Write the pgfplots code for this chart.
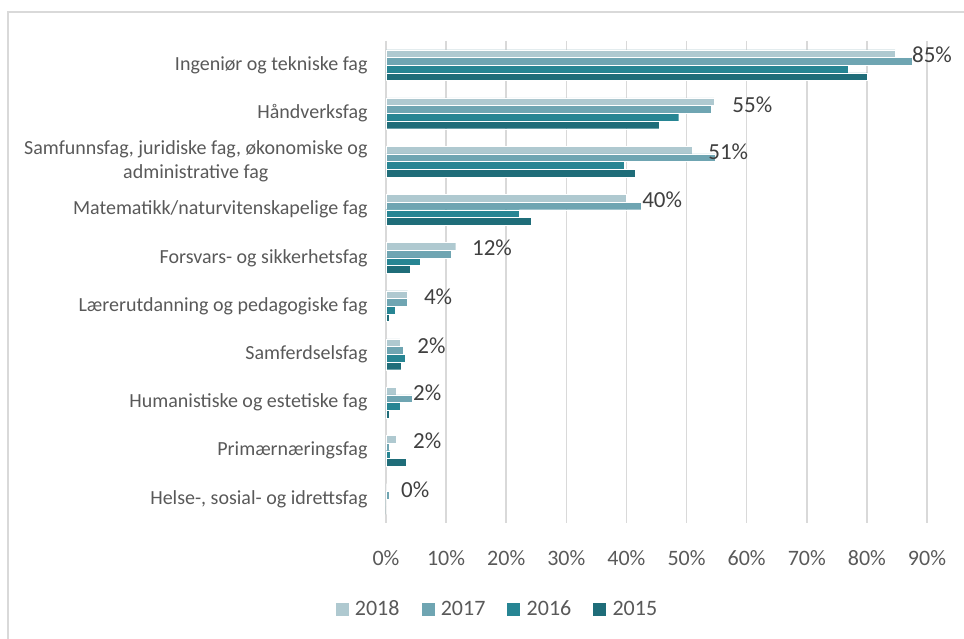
\documentclass[border=0pt]{standalone}
\usepackage{fontspec}
\setmainfont{Carlito}
\usepackage{pgfplots}
\pgfplotsset{compat=1.18}

\definecolor{c2018}{HTML}{AFC9D0}
\definecolor{c2017}{HTML}{6FA5B2}
\definecolor{c2016}{HTML}{278593}
\definecolor{c2015}{HTML}{1F6D79}
\definecolor{gridgray}{HTML}{D9D9D9}
\definecolor{txt}{HTML}{595959}
\definecolor{lbl}{HTML}{404040}

\begin{document}
\begin{tikzpicture}
\useasboundingbox (-386bp,-116bp) rectangle (578bp,523bp);
% chart frame (only top and left edges are visible)
\draw[gridgray, line width=1.2bp] (-378bp,-116bp) -- (-378bp,511bp) -- (578bp,511bp);
\begin{axis}[
    scale only axis,
    width=541bp, height=482bp,
    xmin=0, xmax=90,
    ymin=-0.5, ymax=9.5,
    y dir=reverse,
    xbar,
    bar width=7.7bp,
    xtick={0,10,...,90},
    xticklabel={\pgfmathprintnumber{\tick}\%},
    ytick={0,...,9},
    yticklabels={
        Ingeniør og tekniske fag,
        Håndverksfag,
        {Samfunnsfag, juridiske fag, økonomiske og\\administrative fag},
        Matematikk/naturvitenskapelige fag,
        Forsvars- og sikkerhetsfag,
        Lærerutdanning og pedagogiske fag,
        Samferdselsfag,
        Humanistiske og estetiske fag,
        Primærnæringsfag,
        {Helse-, sosial- og idrettsfag}},
    /pgf/number format/assume math mode=true,
    axis line style={draw=none},
    major tick length=0pt,
    xmajorgrids,
    grid style={gridgray, line width=1.5bp},
    xticklabel style={font=\fontsize{22bp}{26bp}\selectfont, text=txt, yshift=-24bp},
    yticklabel style={font=\fontsize{20bp}{24bp}\selectfont, text=txt, align=center, xshift=-15bp},
    legend style={draw=none, at={(0.205,-0.178)}, anchor=center,
        font=\fontsize{22bp}{26bp}\selectfont, text=txt,
        legend columns=4,
        /tikz/every odd column/.append style={column sep=4bp},
        /tikz/every even column/.append style={column sep=19bp}},
    legend image code/.code={\fill[#1] (0bp,-7bp) rectangle (14bp,7bp);},
    clip=false,
]
\addplot[fill=c2018, draw=white, line width=0.3bp, bar shift=11.55bp] coordinates {
    (84.7,0) (54.6,1) (51.0,2) (40.0,3) (11.6,4) (3.6,5) (2.3,6) (1.7,7) (1.7,8) (0.0,9)};
\addplot[fill=c2017, draw=white, line width=0.3bp, bar shift=3.85bp] coordinates {
    (87.6,0) (54.1,1) (54.7,2) (42.4,3) (10.8,4) (3.6,5) (2.8,6) (4.3,7) (0.6,8) (0.6,9)};
\addplot[fill=c2016, draw=white, line width=0.3bp, bar shift=-3.85bp] coordinates {
    (76.9,0) (48.7,1) (39.7,2) (22.2,3) (5.7,4) (1.5,5) (3.2,6) (2.3,7) (0.7,8) (0.0,9)};
\addplot[fill=c2015, draw=white, line width=0.3bp, bar shift=-11.55bp] coordinates {
    (80.1,0) (45.5,1) (41.4,2) (24.1,3) (4.0,4) (0.6,5) (2.6,6) (0.6,7) (3.3,8) (0.0,9)};
\legend{2018,2017,2016,2015}

% data labels (2018 values)
\begin{scope}[every node/.style={anchor=west, inner sep=0pt, text=lbl,
        font=\fontsize{23bp}{27bp}\selectfont}]
\node at (axis cs:87.5,-0.21) {85\%};
\node at (axis cs:57.6,0.83) {55\%};
\node at (axis cs:53.6,1.80) {51\%};
\node at (axis cs:42.6,2.80) {40\%};
\node at (axis cs:14.3,3.79) {12\%};
\node at (axis cs:6.3,4.81) {4\%};
\node at (axis cs:5.2,5.83) {2\%};
\node at (axis cs:4.5,6.80) {2\%};
\node at (axis cs:4.5,7.80) {2\%};
\node at (axis cs:2.5,8.82) {0\%};
\end{scope}
\end{axis}
\end{tikzpicture}
\end{document}
